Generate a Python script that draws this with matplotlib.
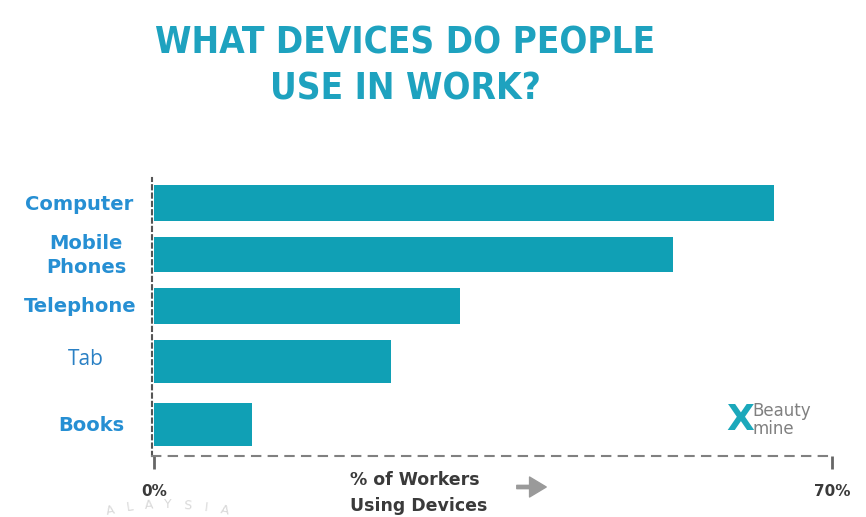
import numpy as np
import matplotlib
matplotlib.use('Agg')
import matplotlib.pyplot as plt
from matplotlib.transforms import blended_transform_factory

# data (% of workers)
devices = ['Computer', 'Mobile\nPhones', 'Telephone', 'Tab', 'Books']
share = [64, 53.6, 31.6, 24.5, 10.1]

# bar rows in pixel units, spacing is irregular in the original
bar_y = [203, 254.5, 306, 361.5, 424.5]
bar_h = [36, 35, 36, 43, 43]

W, H = 866, 517
teal = '#10a0b5'
blue = '#268fd3'
dark = '#3a3a3a'

fig = plt.figure(figsize=(W / 100, H / 100), dpi=100)
fig.patch.set_facecolor('white')

def fx(x):
    return x / W

def fy(y):
    return 1 - y / H

ax = fig.add_axes([fx(152), fy(456), 680 / W, (456 - 178) / H])
ax.barh(bar_y, share, height=bar_h, color=teal)
ax.set_xlim(-0.2, 70)
ax.set_ylim(456, 178)

for s in ['top', 'right']:
    ax.spines[s].set_visible(False)
ax.spines['left'].set_linestyle((0, (2, 2)))
ax.spines['left'].set_color('#555555')
ax.spines['left'].set_linewidth(1.5)
ax.spines['bottom'].set_linestyle((0, (4, 4)))
ax.spines['bottom'].set_color('#808080')
ax.spines['bottom'].set_linewidth(1.5)

ax.set_xticks([0, 70])
ax.set_xticklabels(['0%', '70%'], fontsize=11, fontweight='bold', color=dark)
ax.tick_params(axis='x', direction='out', length=9, width=2, color='#666666', pad=11)
ax.tick_params(axis='y', left=False, labelleft=False)

# category labels, x in figure pixels, y on bar rows
tr = blended_transform_factory(fig.transFigure, ax.transData)
label_x = [133, 86, 136, 86, 91]
label_ha = ['right', 'center', 'right', 'center', 'center']
for i, name in enumerate(devices):
    if name == 'Tab':
        ax.text(fx(label_x[i]), bar_y[i] - 2, name, transform=tr, ha='center', va='center',
                fontsize=15, family='Open Sans', color='#2a80c4', clip_on=False)
    else:
        ax.text(fx(label_x[i]), bar_y[i] + 1, name, transform=tr, ha=label_ha[i], va='center',
                fontsize=14, fontweight='bold', color=blue, linespacing=1.3,
                multialignment='center', clip_on=False)

# title
title_font = dict(family='DejaVu Sans', fontstretch='condensed', fontweight='bold',
                  fontsize=26.5, color='#1ea2bf', ha='center', va='baseline')
fig.text(fx(405), fy(54), 'WHAT DEVICES DO PEOPLE', **title_font)
fig.text(fx(405), fy(100), 'USE IN WORK?', **title_font)

# axis caption and arrow
fig.text(fx(350), fy(480), '% of Workers', fontsize=12.5, fontweight='bold', color=dark,
         ha='left', va='center')
fig.text(fx(350), fy(506), 'Using Devices', fontsize=12.5, fontweight='bold', color=dark,
         ha='left', va='center')
fig.add_artist(matplotlib.patches.FancyArrowPatch(
    (fx(514), fy(487)), (fx(549), fy(487)), transform=fig.transFigure,
    arrowstyle='simple,head_width=1.2,head_length=1', mutation_scale=12,
    color='#9a9a9a'))

# logo
fig.text(fx(740), fy(420), 'X', fontsize=26, fontweight='bold', color='#1ba8bb',
         ha='center', va='center')
fig.text(fx(752), fy(420), 'Beauty\nmine', fontsize=12, family='DejaVu Sans',
         fontweight='normal', color='#808080', ha='left', va='center', linespacing=0.95)

# faint watermark arc
wm = 'ALAYSIA'
angles = np.linspace(101, 79, len(wm))
for ch, a in zip(wm, angles):
    r = np.deg2rad(a)
    fig.text(fx(168 + 300 * np.cos(r)), fy(805 - 300 * np.sin(r)), ch, fontsize=9,
             color='#d9d9d9', ha='center', va='center', rotation=a - 90)

fig.savefig('out.png', dpi=100, facecolor='white')
